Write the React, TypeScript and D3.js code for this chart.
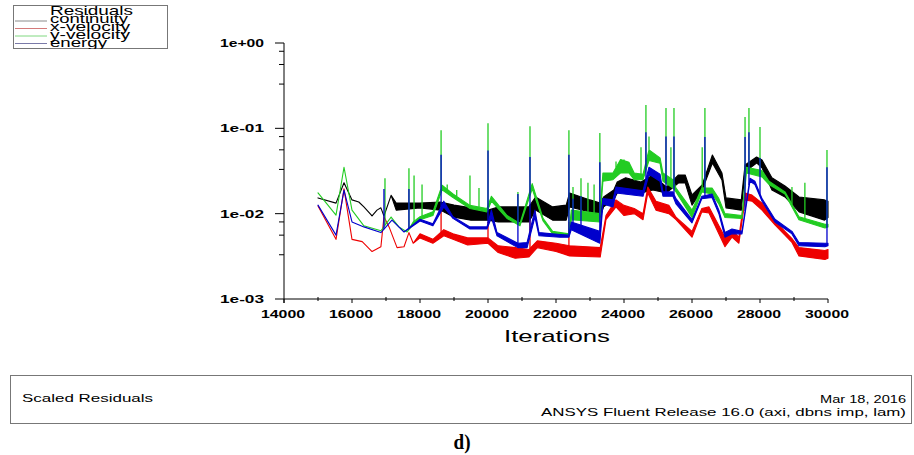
import React, { useEffect } from 'react';
import * as d3 from 'd3';

// residual bands: [iteration, low, high] (low == high where the trace is a thin line)
const continuity = [
  [15000, 0.0153, 0.0153], [15530, 0.0133, 0.0133], [15765, 0.023, 0.023], [16000, 0.0145, 0.0145],
  [16200, 0.0137, 0.0137], [16350, 0.012, 0.012], [16590, 0.0094, 0.0094], [16735, 0.011, 0.011],
  [16850, 0.0117, 0.0117], [16940, 0.0094, 0.0094], [17150, 0.0164, 0.0164], [17300, 0.011, 0.0133],
  [18000, 0.0117, 0.0133], [18600, 0.011, 0.0137], [19000, 0.0091, 0.0126], [19500, 0.0084, 0.0117],
  [20000, 0.0084, 0.011], [20300, 0.008, 0.012], [21200, 0.008, 0.012], [21400, 0.011, 0.0157],
  [21900, 0.0084, 0.012], [22300, 0.0084, 0.0126], [22400, 0.012, 0.0175], [23000, 0.0105, 0.0145],
  [23300, 0.0091, 0.0133], [23400, 0.012, 0.0157], [23700, 0.0145, 0.0189], [23800, 0.0175, 0.0235],
  [24050, 0.0189, 0.0263], [24500, 0.0175, 0.0235], [24850, 0.0189, 0.0284], [25250, 0.0175, 0.0205],
  [25600, 0.0229, 0.0284], [25800, 0.0229, 0.0284], [26000, 0.0126, 0.0166], [26300, 0.0189, 0.0217],
  [26600, 0.0393, 0.0487], [26880, 0.0248, 0.03], [27000, 0.0117, 0.0153], [27450, 0.011, 0.0145],
  [27560, 0.031, 0.0372], [27900, 0.0393, 0.0461], [28060, 0.0344, 0.0426], [28350, 0.0189, 0.0263],
  [28735, 0.0157, 0.0211], [29150, 0.0105, 0.0157], [29900, 0.0084, 0.0145], [30000, 0.009, 0.014],
];

const xVelocity = [
  [15000, 0.0123, 0.0123], [15530, 0.005, 0.005], [15765, 0.0195, 0.0195], [16000, 0.005, 0.005],
  [16300, 0.0047, 0.0047], [16590, 0.0036, 0.0036], [16850, 0.0041, 0.0041], [16940, 0.0092, 0.0092],
  [17090, 0.007, 0.007], [17325, 0.004, 0.004], [17530, 0.0041, 0.0041], [17675, 0.006, 0.006],
  [17800, 0.0045, 0.0045], [18000, 0.0052, 0.0058], [18380, 0.0045, 0.005], [18700, 0.0055, 0.0065],
  [18970, 0.005, 0.0058], [19400, 0.0043, 0.0052], [20000, 0.0045, 0.0052], [20300, 0.0035, 0.0042],
  [20800, 0.003, 0.004], [21200, 0.0031, 0.0038], [21450, 0.004, 0.0048], [22000, 0.0036, 0.0045],
  [22400, 0.0032, 0.0042], [23300, 0.0031, 0.004], [23470, 0.0085, 0.0095], [23765, 0.012, 0.0145],
  [24000, 0.0095, 0.0125], [24300, 0.01, 0.0115], [24560, 0.0085, 0.01], [24700, 0.0175, 0.0205],
  [24940, 0.011, 0.014], [25320, 0.01, 0.0125], [25530, 0.0085, 0.0091], [26000, 0.0053, 0.0062],
  [26290, 0.0105, 0.0115], [26500, 0.0102, 0.012], [26970, 0.0041, 0.0053], [27175, 0.0053, 0.0064],
  [27380, 0.0045, 0.0053], [27560, 0.0145, 0.0175], [27765, 0.014, 0.0165], [28060, 0.011, 0.0133],
  [28440, 0.0074, 0.0082], [28940, 0.0046, 0.0051], [29145, 0.0032, 0.004], [29910, 0.0029, 0.0037],
  [30000, 0.003, 0.0038],
];

const yVelocity = [
  [15000, 0.0175, 0.0175], [15530, 0.0096, 0.0096], [15765, 0.035, 0.035], [16000, 0.011, 0.011],
  [16350, 0.0072, 0.0072], [16850, 0.0063, 0.0063], [17150, 0.0091, 0.0091], [17380, 0.007, 0.007],
  [17620, 0.0061, 0.0061], [17800, 0.0075, 0.008], [18000, 0.0085, 0.0092], [18380, 0.0095, 0.0105],
  [18650, 0.019, 0.0215], [18970, 0.0155, 0.017], [19470, 0.0115, 0.0125], [19970, 0.0105, 0.0115],
  [20100, 0.014, 0.016], [20560, 0.0088, 0.0095], [20940, 0.0072, 0.0077], [21300, 0.0195, 0.0225],
  [21620, 0.0082, 0.0088], [21900, 0.0058, 0.0062], [22380, 0.0054, 0.0058], [22450, 0.0085, 0.011],
  [23290, 0.008, 0.01], [23380, 0.024, 0.03], [23675, 0.025, 0.03], [23900, 0.03, 0.043],
  [24145, 0.03, 0.04], [24300, 0.025, 0.03], [24560, 0.025, 0.029], [24735, 0.042, 0.056],
  [25060, 0.039, 0.045], [25145, 0.024, 0.03], [25440, 0.02, 0.025], [25530, 0.018, 0.02],
  [26000, 0.009, 0.011], [26290, 0.018, 0.02], [26590, 0.017, 0.02], [26790, 0.013, 0.015],
  [26970, 0.009, 0.01], [27470, 0.0088, 0.0095], [27600, 0.03, 0.035], [28060, 0.027, 0.032],
  [28265, 0.022, 0.024], [28735, 0.017, 0.018], [29145, 0.0085, 0.0092], [29910, 0.0068, 0.0075],
  [30000, 0.007, 0.0075],
];

const energy = [
  [15000, 0.0126, 0.0126], [15530, 0.0056, 0.0056], [15765, 0.0189, 0.0189], [16000, 0.008, 0.008],
  [16350, 0.007, 0.007], [16850, 0.006, 0.006], [17175, 0.0084, 0.0084], [17530, 0.0061, 0.0061],
  [18000, 0.0082, 0.0086], [18380, 0.0072, 0.0076], [18700, 0.012, 0.014], [18970, 0.0088, 0.0092],
  [19470, 0.0066, 0.007], [19970, 0.0066, 0.007], [20100, 0.009, 0.011], [20265, 0.0055, 0.006],
  [20880, 0.004, 0.0045], [21150, 0.004, 0.0046], [21380, 0.0091, 0.011], [21500, 0.0055, 0.006],
  [22120, 0.0053, 0.0057], [22380, 0.0053, 0.0056], [22450, 0.0065, 0.008], [23290, 0.0045, 0.0062],
  [23380, 0.013, 0.015], [23675, 0.012, 0.0145], [23765, 0.0175, 0.0205], [24560, 0.016, 0.0185],
  [24735, 0.029, 0.035], [25060, 0.024, 0.029], [25145, 0.016, 0.018], [25440, 0.016, 0.018],
  [25530, 0.013, 0.015], [26000, 0.0078, 0.0085], [26290, 0.015, 0.016], [26590, 0.0155, 0.017],
  [26790, 0.01, 0.011], [26970, 0.0053, 0.006], [27175, 0.0058, 0.0066], [27470, 0.0058, 0.0062],
  [27705, 0.024, 0.026], [27850, 0.022, 0.024], [28060, 0.014, 0.015], [28440, 0.008, 0.0086],
  [28940, 0.0058, 0.0062], [29145, 0.0042, 0.0046], [29910, 0.0041, 0.0045], [30000, 0.0042, 0.0045],
];

// spikes: [iteration, peak value]
const yVelocitySpikes = [
  [16970, 0.026], [17675, 0.034], [17825, 0.028], [18060, 0.022], [18620, 0.095], [18800, 0.022],
  [19080, 0.019], [19470, 0.028], [19735, 0.02], [20000, 0.115], [20880, 0.018], [21235, 0.106],
  [22380, 0.095], [22500, 0.0205], [22735, 0.026], [22940, 0.023], [23120, 0.022], [23290, 0.088],
  [23765, 0.041], [24000, 0.043], [24500, 0.06], [24645, 0.188], [24735, 0.08], [25235, 0.173],
  [25380, 0.06], [25470, 0.173], [26300, 0.06], [26380, 0.173], [27560, 0.136], [27675, 0.173],
  [28000, 0.104], [28940, 0.0205], [29320, 0.023], [29970, 0.0557],
];
const energySpikes = [
  [16940, 0.0195], [17675, 0.0195], [18620, 0.049], [20000, 0.055], [20880, 0.017], [21235, 0.046],
  [22380, 0.049], [22500, 0.015], [22735, 0.016], [23290, 0.04], [24645, 0.09], [25235, 0.08],
  [25470, 0.08], [26380, 0.079], [27560, 0.079], [27675, 0.09], [28000, 0.045], [29970, 0.035],
];
const xVelocitySpikes = [
  [16940, 0.0092], [18620, 0.012], [20000, 0.008], [21235, 0.0085], [22380, 0.008],
];

const series = [
  { name: 'continuity', data: continuity, spikes: [], color: '#000000', legend: '#8a8a8a' },
  { name: 'x-velocity', data: xVelocity, spikes: xVelocitySpikes, color: '#ee0000', legend: '#d47a7a' },
  { name: 'y-velocity', data: yVelocity, spikes: yVelocitySpikes, color: '#22cc22', legend: '#80d880' },
  { name: 'energy', data: energy, spikes: energySpikes, color: '#0000cc', legend: '#7a7aa8' },
];

const xTicks = [14000, 16000, 18000, 20000, 22000, 24000, 26000, 28000, 30000];
const yTicks = [1, 0.1, 0.01, 0.001];
const yTickLabels = ['1e+00', '1e-01', '1e-02', '1e-03'];

const font = 'Liberation Sans, Arial, sans-serif';

const App = () => {
  useEffect(() => {
    document.body.style.margin = '0';
  }, []);

  const W = 914, H = 455;
  const x = d3.scaleLinear().domain([14000, 30000]).range([284, 828]);
  const y = d3.scaleLog().domain([0.001, 1]).range([299, 43]);

  const area = d3.area<number[]>()
    .x(d => x(d[0]))
    .y0(d => y(d[1]))
    .y1(d => y(d[2]));

  // height of the band top at a given iteration, for the spike base
  const baseAt = (data: number[][], it: number) => {
    const i = d3.bisector((d: number[]) => d[0]).left(data, it);
    if (i <= 0) return data[0][2];
    if (i >= data.length) return data[data.length - 1][2];
    const a = data[i - 1], b = data[i];
    const t = (it - a[0]) / (b[0] - a[0]);
    return Math.exp(Math.log(a[2]) + t * (Math.log(b[2]) - Math.log(a[2])));
  };

  const minorX = d3.range(15000, 30000, 2000);
  const minorY: number[] = [];
  [1, 0.1, 0.01].forEach(dec => [0.8, 0.56, 0.33].forEach(m => minorY.push(dec * m)));

  const legendWidths: Record<string, number> = { continuity: 78, 'x-velocity': 80, 'y-velocity': 80, energy: 57 };

  return (
    <svg width={W} height={H} style={{ display: 'block', background: '#fff' }}>
      {/* legend */}
      <defs>
        <clipPath id="legend-clip">
          <rect x={13} y={5} width={155} height={44} />
        </clipPath>
      </defs>
      <rect x={13.5} y={5.5} width={154} height={43} fill="#fff" stroke="#777" strokeWidth={1} />
      <g clipPath="url(#legend-clip)">
        <text x={50} y={15} fontFamily={font} fontSize={13} textLength={83} lengthAdjust="spacingAndGlyphs">Residuals</text>
        {series.map((s, i) => (
          <g key={s.name}>
            <line x1={15} x2={47} y1={21 + i * 7.5} y2={21 + i * 7.5} stroke={s.legend} strokeWidth={1} />
            <text x={50} y={23 + i * 8} fontFamily={font} fontSize={13}
              textLength={legendWidths[s.name]} lengthAdjust="spacingAndGlyphs">{s.name}</text>
          </g>
        ))}
      </g>

      {/* series */}
      {series.map(s => (
        <g key={s.name}>
          <path d={area(s.data) || ''} fill={s.color} stroke={s.color} strokeWidth={1.1} strokeLinejoin="round" />
          {s.spikes.map((p, j) => (
            <line key={j} x1={x(p[0])} x2={x(p[0])} y1={y(baseAt(s.data, p[0]))} y2={y(p[1])}
              stroke={s.color} strokeWidth={1.3} />
          ))}
        </g>
      ))}

      {/* y axis */}
      <line x1={284} x2={284} y1={43} y2={303} stroke="#000" strokeWidth={1} />
      {yTicks.map((t, i) => (
        <g key={t}>
          <line x1={275} x2={284} y1={y(t)} y2={y(t)} stroke="#000" />
          <text x={264} y={y(t) + 4} textAnchor="end" fontFamily={font} fontSize={11} fontWeight="bold"
            textLength={44} lengthAdjust="spacingAndGlyphs">{yTickLabels[i]}</text>
        </g>
      ))}
      {minorY.map(t => (
        <line key={t} x1={279} x2={284} y1={y(t)} y2={y(t)} stroke="#000" />
      ))}

      {/* x axis */}
      <line x1={284} x2={828} y1={299} y2={299} stroke="#000" strokeWidth={1} />
      {xTicks.map(t => (
        <g key={t}>
          <line x1={x(t)} x2={x(t)} y1={299} y2={303} stroke="#000" />
          <text x={x(t) - 1} y={318} textAnchor="middle" fontFamily={font} fontSize={11} fontWeight="bold"
            textLength={44} lengthAdjust="spacingAndGlyphs">{t}</text>
        </g>
      ))}
      {minorX.map(t => (
        <line key={t} x1={x(t)} x2={x(t)} y1={297} y2={301} stroke="#000" />
      ))}
      <text x={557} y={342} textAnchor="middle" fontFamily={font} fontSize={17}
        textLength={106} lengthAdjust="spacingAndGlyphs">Iterations</text>

      {/* title box */}
      <rect x={10.5} y={375.5} width={901} height={48} fill="#fff" stroke="#777" strokeWidth={1} />
      <text x={22} y={402} fontFamily={font} fontSize={11.5} textLength={131} lengthAdjust="spacingAndGlyphs">Scaled Residuals</text>
      <text x={906} y={403} textAnchor="end" fontFamily={font} fontSize={11.5} textLength={86} lengthAdjust="spacingAndGlyphs">Mar 18, 2016</text>
      <text x={906} y={416} textAnchor="end" fontFamily={font} fontSize={11.5} textLength={365} lengthAdjust="spacingAndGlyphs">ANSYS Fluent Release 16.0 (axi, dbns imp, lam)</text>

      <text x={462} y={449} textAnchor="middle" fontFamily="Liberation Serif, Times New Roman, serif" fontSize={22}
        fontWeight="bold" textLength={17} lengthAdjust="spacingAndGlyphs">d)</text>
    </svg>
  );
};

export default App;
